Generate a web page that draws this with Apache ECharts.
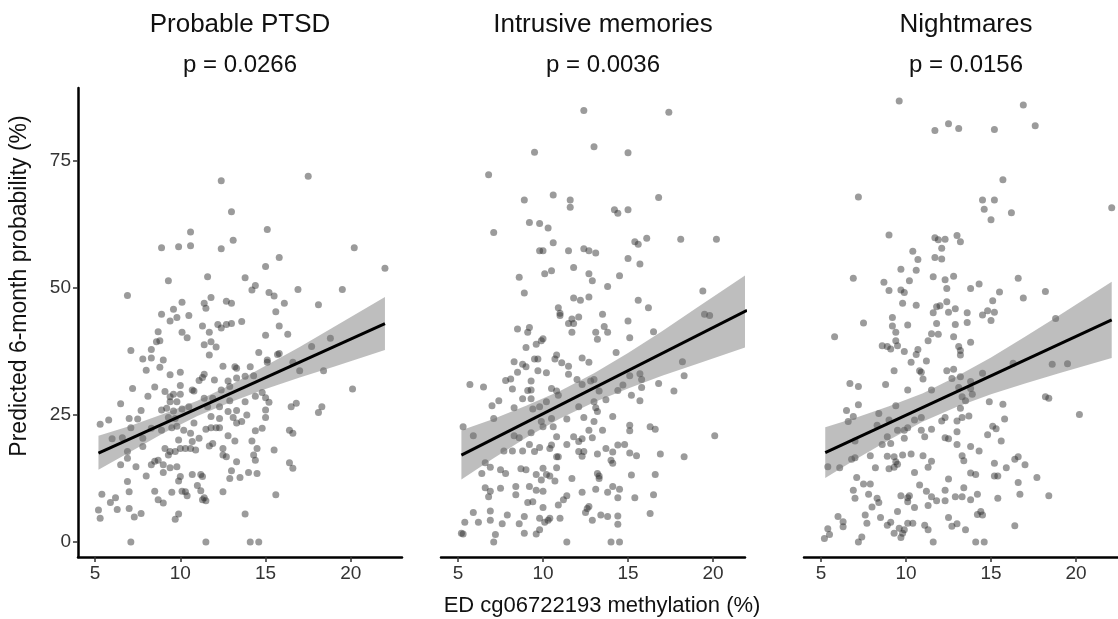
<!DOCTYPE html>
<html><head><meta charset="utf-8">
<script src="https://cdn.jsdelivr.net/npm/echarts@6/dist/echarts.min.js"></script>
<style>html,body{margin:0;padding:0;background:#fff}#c{width:1118px;height:619px}</style>
</head><body><div id="c"></div>
<script>
const panelTitles = ['Probable PTSD', 'Intrusive memories', 'Nightmares'];
const pValues = ['p = 0.0266', 'p = 0.0036', 'p = 0.0156'];
const xTicks = [5, 10, 15, 20];
const yTicks = [0, 25, 50, 75];
const xAxisTitle = 'ED cg06722193 methylation (%)';
const yAxisTitle = 'Predicted 6-month probability (%)';

const ptsdPoints = [
[12.4,71.1],[17.5,72.0],[13.0,65.0],[10.6,61.0],[15.1,61.5],[13.1,59.4],[8.9,57.9],[9.9,58.1],[10.6,58.3],[12.4,57.7],[20.2,57.9],[15.8,56.0],
[15.0,54.2],[22.0,53.9],[9.3,51.4],[11.6,52.2],[13.8,52.0],[14.4,50.5],[14.2,49.6],[16.9,49.7],[19.5,49.7],[6.9,48.5],[15.2,49.1],[15.5,48.4],[11.8,48.1],[12.7,47.4],[13.0,47.0],[11.4,47.0],[10.1,47.2],[16.1,47.0],[18.1,46.7],[11.5,46.0],[9.6,45.8],[8.9,44.8],[9.8,44.2],[10.5,44.6],[15.6,45.3],[9.4,43.5],[13.6,43.4],[11.3,42.5],[12.2,42.8],[12.7,42.8],[13.0,43.0],[12.4,42.1],[11.7,41.3],[10.1,41.3],[8.7,41.4],[15.8,42.5],[15.0,40.7],[16.3,40.9],[10.4,40.2],[8.6,39.4],[8.8,39.6],[11.4,38.8],[11.8,39.4],[12.1,38.4],[7.1,37.7],[8.3,37.9],[18.8,40.1],[17.7,38.5],[11.7,36.8],[14.6,37.3],[15.7,36.9],[15.8,37.1],[7.8,36.0],[8.3,36.2],[9.0,35.8],[15.1,35.8],[15.1,35.4],[16.6,35.4],[8.0,33.8],[8.8,34.4],[12.5,34.6],[13.2,34.5],[13.3,34.2],[14.1,34.5],[10.0,33.4],[9.4,32.9],[17.0,33.7],[18.4,33.7],[11.4,33.0],[11.3,32.4],[11.1,31.8],[12.0,31.9],[12.8,31.7],[13.3,32.3],[13.8,32.6],[14.3,32.7],[10.0,30.8],[7.2,30.2],[8.5,30.5],[9.1,29.6],[9.6,29.1],[10.0,29.1],[10.7,29.9],[10.8,29.7],[12.4,29.9],[12.9,30.6],[20.1,30.1],[8.1,28.7],[9.4,28.6],[9.8,27.6],[9.4,27.6],[11.4,28.3],[11.9,28.3],[12.9,27.8],[13.8,27.6],[14.4,28.7],[14.8,29.4],[15.0,28.4],[15.2,27.5],[6.5,27.2],[7.7,25.9],[8.9,26.0],[9.2,26.3],[9.6,25.8],[10.1,26.2],[10.5,26.6],[11.6,26.6],[12.3,26.6],[12.8,25.7],[13.3,25.9],[16.5,26.6],[16.8,27.3],[18.3,26.6],[18.1,25.5],[15.0,26.0],[5.8,24.0],[7.0,24.3],[7.5,24.2],[9.3,24.5],[9.7,24.3],[11.8,24.7],[12.3,24.3],[13.1,24.5],[13.9,25.0],[15.0,24.5],
[5.3,23.2],[7.1,22.5],[13.3,23.4],[13.6,23.7],[11.8,22.5],[12.1,22.5],[12.3,22.5],[11.5,22.2],[12.8,20.9],[13.2,19.9],[14.4,21.9],[14.8,22.4],[14.2,19.9],[16.4,22.0],[16.6,21.4],[6.0,20.3],[6.6,20.5],[7.8,18.8],[6.9,17.8],[6.9,16.5],[6.5,15.2],[7.4,14.8],[8.0,13.0],[7.8,20.4],[8.3,22.4],[8.9,22.0],[9.5,22.5],[9.8,22.8],[10.2,22.0],[10.6,21.4],[10.8,23.4],[9.9,20.1],[9.1,18.4],[9.4,17.8],[9.3,17.1],[9.7,17.8],[10.0,18.4],[10.3,18.4],[10.6,18.4],[10.9,18.1],[10.7,19.8],[11.1,20.4],[11.7,18.9],[11.9,19.4],[12.5,18.4],[12.5,17.1],[12.7,16.8],[14.5,18.4],[14.3,17.1],[14.4,16.1],[15.5,18.1],[8.5,15.9],[8.7,16.1],[8.3,15.2],[9.0,15.2],[9.4,14.6],[9.8,14.8],[9.0,13.7],[10.0,12.9],[9.9,12.0],[10.7,13.3],[11.2,13.3],[11.3,12.9],[13.0,14.0],[13.3,15.8],[12.9,12.5],[13.5,12.7],[14.0,13.7],[14.5,13.5],[16.4,15.6],[16.6,14.5],[6.9,11.9],[7.0,9.9],[5.4,9.4],[6.2,8.7],[5.9,7.8],[6.3,6.4],[7.0,6.6],[5.2,6.3],[5.3,4.7],[7.3,4.9],[7.7,5.6],[8.5,10.0],[8.7,8.3],[9.0,7.7],[9.5,9.8],[10.1,10.0],[10.3,9.9],[10.4,9.1],[11.0,11.1],[11.2,10.1],[11.4,8.7],[11.5,8.1],[11.3,8.3],[12.5,9.9],[9.9,5.5],[9.7,4.5],[13.8,5.5],[15.6,9.3],[7.1,0],[11.5,0],[14.1,0],[14.6,0]
];

const intrusivePoints = [
[12.4,84.9],[17.4,84.6],[13.0,77.8],[9.5,76.7],[15.0,76.6],[6.8,72.3],[10.6,68.3],[8.9,67.3],[11.6,67.3],[11.6,65.9],[14.2,65.4],[14.4,64.7],[15.0,65.4],[16.8,67.8],[22.0,66.3],[7.1,60.9],[9.2,62.9],[9.8,62.7],[10.3,61.8],[10.6,58.9],[9.8,57.3],[10.0,57.3],[11.5,57.3],[12.4,57.7],[12.7,57.3],[13.1,56.9],[15.4,59.1],[15.6,58.6],[16.1,59.8],[18.1,59.6],[20.2,59.6],[15.0,55.8],
[15.7,54.7],[8.6,52.1],[10.1,52.8],[10.5,53.4],[11.8,54.0],[12.7,52.8],[12.9,51.4],[14.5,52.4],[13.8,50.3],[8.9,49.0],[19.4,49.4],[11.8,48.0],[12.2,47.6],[12.7,48.2],[15.6,47.6],[16.2,46.1],[10.9,46.1],[11.0,45.0],[11.0,44.6],[12.1,44.3],[11.7,43.9],[11.8,43.0],[11.5,43.0],[13.5,44.8],[19.5,44.8],[19.8,44.6],[15.0,43.5],[13.6,42.4],[13.8,41.3],[13.1,41.3],[13.2,39.9],[15.1,40.2],[16.5,41.4],[8.5,41.9],[9.1,41.3],[9.2,42.2],[11.7,41.3],[10.0,40.0],[9.6,38.9],[9.0,38.3],[9.9,39.6],[14.3,37.3],[8.3,35.5],[8.8,35.0],[9.0,34.5],[9.5,36.0],[9.7,36.0],[10.8,36.8],[10.7,36.0],[11.1,35.3],[11.5,34.6],[12.3,36.2],[12.7,35.4],[8.5,33.4],[9.7,33.7],[10.2,33.3],[11.5,33.0],[18.2,35.5],[18.3,32.7],[15.7,33.1],[15.8,32.0],[5.7,31.0],[6.5,30.5],[7.8,31.8],[8.1,32.1],[8.2,30.1],[9.3,31.7],[9.1,29.8],[9.3,29.9],[10.5,30.2],[10.8,29.7],[12.0,32.0],[12.3,31.0],[12.8,31.7],[13.0,32.0],[13.3,29.7],[14.4,29.8],[14.7,30.9],[15.1,32.7],[15.8,30.4],[16.8,31.2],[17.7,29.7],[15.2,28.9],[15.7,27.8],[7.0,26.8],[7.4,27.8],[8.3,26.4],[8.8,28.2],[9.3,28.2],[9.4,26.2],[9.8,26.6],[10.2,27.6],[10.9,28.9],[12.1,26.6],[13.0,27.6],[13.1,26.4],[13.2,25.7],[13.7,28.0],[14.1,24.7],[7.1,24.3],[10.5,24.3],[11.4,24.2],[12.4,24.5],
[5.3,22.7],[5.9,20.9],[9.3,21.5],[8.3,20.9],[8.6,20.5],[9.9,23.7],[10.0,22.7],[10.6,22.7],[13.0,23.7],[12.7,22.0],[13.5,22.0],[15.1,23.0],[15.1,21.9],[16.3,22.7],[16.6,22.2],[20.1,20.9],[10.8,20.7],[11.8,20.7],[12.1,19.8],[12.3,20.3],[12.9,20.5],[7.7,17.9],[8.2,17.9],[8.8,17.9],[9.2,19.2],[9.5,17.8],[9.8,18.6],[10.5,19.1],[10.4,18.4],[10.8,16.8],[10.9,16.8],[11.4,19.2],[12.1,17.8],[12.3,16.9],[12.4,17.8],[13.2,17.3],[13.7,18.4],[14.1,17.7],[14.4,19.1],[14.8,19.2],[15.1,17.5],[15.5,17.0],[16.9,17.3],[18.3,16.8],[6.6,15.6],[6.9,14.7],[6.4,13.5],[7.5,14.2],[7.8,13.5],[8.7,14.4],[9.0,14.2],[9.6,13.3],[10.0,14.5],[10.2,13.3],[10.4,13.0],[9.9,12.2],[10.7,12.0],[10.8,14.6],[11.7,12.5],[13.2,13.5],[13.3,12.5],[13.3,13.0],[14.0,16.1],[14.1,15.5],[15.2,13.2],[16.6,13.3],[6.6,10.7],[6.9,10.0],[6.8,8.9],[7.5,10.6],[8.4,10.9],[9.2,10.9],[9.6,10.2],[10.0,10.0],[9.1,7.8],[9.4,7.9],[10.0,6.8],[8.4,9.3],[11.2,8.3],[11.4,9.1],[10.9,7.3],[12.3,9.8],[13.1,10.4],[13.8,9.8],[14.1,10.9],[14.5,10.4],[14.4,8.7],[15.4,8.7],[16.5,9.3],[12.6,6.6],[12.7,7.0],[12.5,5.8],[16.3,5.6],[5.9,5.8],[5.4,3.9],[6.2,3.9],[6.9,6.1],[6.9,4.3],[7.9,5.3],[7.6,3.6],[8.6,3.6],[8.9,5.0],[9.8,4.7],[10.1,3.9],[10.3,4.3],[10.4,4.7],[11.0,4.7],[9.8,2.4],[9.6,1.6],[8.9,1.7],[7.2,1.5],[7.1,0],[5.2,1.7],[5.3,1.6],[12.9,4.3],[13.4,5.3],[13.8,5.0],[14.4,5.1],[14.4,3.5],[11.4,0],[14.0,0],[14.5,0]
];

const nightmaresPoints = [
[9.6,86.8],[16.9,86.0],[17.6,81.9],[12.5,82.3],[13.1,81.4],[11.7,81.0],[15.2,81.2],[15.7,71.3],[7.2,67.9],[14.5,67.3],[15.2,67.3],[14.6,65.5],[16.2,64.8],[15.0,63.4],[22.1,65.8],[9.0,60.4],[11.7,59.9],[11.9,59.5],[12.3,59.6],[13.0,60.3],[13.2,59.1],[12.1,57.8],[10.4,57.2],[10.7,55.6],[11.7,56.0],[12.1,55.7],
[9.7,53.7],[10.6,53.5],[6.9,51.9],[8.7,51.1],[10.2,51.4],[11.6,52.2],[12.3,51.6],[12.8,52.3],[16.6,51.9],[9.0,49.5],[9.7,49.6],[9.9,49.1],[12.4,49.9],[13.8,49.9],[14.3,50.8],[15.5,49.2],[18.2,49.3],[16.9,48.0],[9.8,47.0],[10.6,46.6],[12.4,47.3],[15.1,47.5],[11.8,46.3],[12.0,46.5],[12.9,45.9],[11.6,45.1],[12.5,45.2],[13.6,45.1],[14.5,44.7],[14.8,45.5],[15.2,45.2],[15.0,43.6],[18.8,44.0],[7.5,43.1],[9.2,44.2],[9.2,42.5],[9.4,41.3],[10.1,42.7],[11.8,43.0],[12.9,42.8],[13.6,43.2],[5.8,40.4],[11.5,41.0],[11.9,40.9],[12.8,40.4],[13.8,39.3],[11.3,39.6],[9.4,39.6],[8.6,38.6],[8.9,38.5],[9.1,38.0],[9.5,38.6],[9.9,37.5],[10.7,37.9],[10.6,36.9],[13.1,38.5],[13.2,37.7],[13.2,36.8],[10.3,35.4],[11.2,35.6],[9.3,33.7],[10.8,33.7],[10.9,33.4],[12.4,33.7],[12.8,34.0],[14.5,33.2],[16.3,35.2],[18.6,35.0],[19.5,35.1],[11.0,32.1],[12.7,32.2],[13.2,32.5],[13.8,31.6],[6.7,31.2],[7.2,30.6],[8.8,31.0],[10.1,29.9],[11.5,29.9],[13.1,30.4],[13.8,30.2],[13.9,29.1],[13.3,28.6],[13.5,27.8],[14.9,27.6],[15.7,27.1],[18.2,28.6],[18.4,28.3],[7.2,27.0],[9.4,26.8],[6.5,25.9],[8.4,25.3],[6.9,24.7],[10.9,24.5],[12.3,24.5],[13.2,26.3],[13.3,24.5],[13.7,24.8],[15.8,24.2],[20.2,25.1],
[6.6,23.7],[8.3,23.0],[9.0,24.0],[9.5,22.0],[9.9,22.0],[10.1,22.5],[10.5,24.0],[10.9,22.0],[11.1,20.7],[11.5,22.2],[12.1,23.8],[13.0,23.8],[13.0,21.7],[12.3,20.5],[12.5,20.3],[13.0,19.2],[13.8,18.8],[14.3,17.9],[14.8,21.1],[15.1,22.8],[15.3,22.3],[15.6,19.9],[8.6,19.2],[8.9,20.7],[9.1,19.4],[9.9,20.4],[7.0,19.9],[6.8,16.3],[7.0,16.6],[7.9,17.0],[8.9,16.9],[9.3,16.8],[9.8,17.1],[10.3,17.3],[9.4,15.8],[9.5,15.3],[9.3,14.7],[9.0,14.4],[8.2,14.6],[11.0,17.0],[11.5,15.9],[11.3,14.7],[10.5,13.7],[13.3,17.0],[13.4,16.0],[13.8,13.6],[14.1,13.3],[15.2,15.5],[15.9,14.6],[16.4,16.3],[16.6,16.8],[17.0,15.2],[15.2,13.0],[15.4,13.0],[17.7,12.7],[5.4,14.8],[6.1,14.6],[7.1,12.7],[7.5,11.4],[7.9,11.4],[6.9,10.2],[7.0,8.6],[7.8,9.4],[8.3,8.6],[8.4,7.8],[8.0,6.9],[7.6,5.3],[7.7,3.7],[8.5,4.8],[8.9,3.3],[9.3,1.7],[9.1,3.9],[9.5,6.0],[9.6,2.7],[9.7,9.1],[10.1,8.7],[10.2,9.1],[10.1,7.9],[10.5,6.8],[10.1,3.7],[10.4,3.7],[9.8,1.7],[9.7,0.9],[9.9,2.4],[10.8,11.2],[11.2,10.0],[11.5,8.9],[11.3,7.2],[11.1,3.3],[11.3,2.4],[11.6,0],[11.8,8.1],[12.3,10.2],[12.3,8.1],[12.5,12.4],[12.9,8.9],[13.3,8.9],[13.4,10.7],[13.8,8.3],[14.2,9.4],[15.4,8.6],[16.6,11.7],[16.7,9.4],[18.4,9.1],[12.5,4.8],[12.7,3.1],[13.0,3.6],[13.5,2.4],[14.2,5.4],[14.4,6.0],[14.5,5.3],[16.4,3.2],[6.0,5.0],[6.3,4.0],[6.3,3.0],[5.4,2.6],[5.2,0.7],[5.5,1.5],[7.2,0],[7.4,1.0],[14.1,0],[14.6,0]
];

const ptsdFit = [[5.2, 17.5], [22.0, 43.0]];
const intrusiveFit = [[5.2, 17.1], [22.0, 45.6]];
const nightmaresFit = [[5.25, 17.6], [22.1, 43.7]];

const ptsdBandX = [5.2, 7, 9, 11, 13, 15, 17, 19, 22];
const ptsdBandLow = [14.2, 17.6, 21.4, 24.8, 27.6, 30.1, 32.4, 34.5, 37.8];
const ptsdBandHigh = [20.9, 22.8, 25.2, 27.8, 31.0, 34.7, 38.4, 42.3, 48.2];
const intrusiveBandX = [5.2, 7, 9, 11, 13, 15, 17, 19, 22];
const intrusiveBandLow = [12.3, 16.3, 20.5, 24.3, 27.5, 30.2, 32.7, 35.0, 38.4];
const intrusiveBandHigh = [22.0, 24.1, 26.8, 29.7, 33.2, 37.2, 41.5, 46.0, 52.7];
const nightmaresBandX = [5.25, 7, 9, 11, 13, 15, 17, 19, 22.1];
const nightmaresBandLow = [12.6, 16.2, 20.1, 23.7, 26.6, 29.1, 31.2, 33.2, 36.2];
const nightmaresBandHigh = [22.6, 24.4, 26.7, 29.3, 32.6, 36.3, 40.4, 44.6, 51.2];

// ---------- layout ----------
const FONT = '"Liberation Sans", Arial, sans-serif';
const gridTop = 88, gridH = 469;
const grids = [
  {left: 78, top: gridTop, width: 324, height: gridH},
  {left: 441, top: gridTop, width: 304, height: gridH},
  {left: 804, top: gridTop, width: 314, height: gridH}
];
const panelW = 324;
const xMin = 4, xMaxes = [23, 21.88, 22.47];
const yMin = -2.95, yMax = 89.35;

const panels = [
  {pts: ptsdPoints, fit: ptsdFit, bx: ptsdBandX, lo: ptsdBandLow, hi: ptsdBandHigh},
  {pts: intrusivePoints, fit: intrusiveFit, bx: intrusiveBandX, lo: intrusiveBandLow, hi: intrusiveBandHigh},
  {pts: nightmaresPoints, fit: nightmaresFit, bx: nightmaresBandX, lo: nightmaresBandLow, hi: nightmaresBandHigh}
];

const xAxes = grids.map((g, i) => ({
  type: 'value', gridIndex: i, min: xMin, max: xMaxes[i],
  axisLine: {show: true, onZero: false, lineStyle: {color: '#000', width: 2.5}},
  axisTick: {show: true, customValues: xTicks, length: 5, lineStyle: {color: '#333', width: 1.5}},
  axisLabel: {customValues: xTicks, fontSize: 19, color: '#333', fontFamily: FONT, margin: 7},
  splitLine: {show: false}
}));
const yAxes = grids.map((g, i) => ({
  type: 'value', gridIndex: i, min: yMin, max: yMax, show: i === 0,
  axisLine: {show: true, onZero: false, lineStyle: {color: '#000', width: 2.5}},
  axisTick: {show: true, customValues: yTicks, length: 5, lineStyle: {color: '#333', width: 1.5}},
  axisLabel: {customValues: yTicks, fontSize: 19, color: '#333', fontFamily: FONT, margin: 7},
  splitLine: {show: false}
}));

const series = [];
panels.forEach((p, i) => {
  series.push({
    type: 'scatter', xAxisIndex: i, yAxisIndex: i, data: p.pts, symbolSize: 7, z: 2,
    itemStyle: {color: 'rgba(45,45,45,0.6)'}, silent: true, clip: true
  });
  series.push({
    type: 'custom', xAxisIndex: i, yAxisIndex: i, z: 3, silent: true,
    data: p.bx.map((x, k) => [x, p.lo[k], p.hi[k]]),
    encode: {x: 0, y: [1, 2]},
    renderItem: function (params, api) {
      if (params.dataIndex !== 0) return null;
      const pts = [];
      for (let k = 0; k < p.bx.length; k++) pts.push(api.coord([p.bx[k], p.hi[k]]));
      for (let k = p.bx.length - 1; k >= 0; k--) pts.push(api.coord([p.bx[k], p.lo[k]]));
      const cs = params.coordSys;
      return {
        type: 'polygon', shape: {points: pts},
        style: {fill: 'rgba(110,110,110,0.45)'},
        clipPath: {type: 'rect', shape: {x: cs.x, y: cs.y, width: cs.width, height: cs.height}}
      };
    }
  });
  series.push({
    type: 'line', xAxisIndex: i, yAxisIndex: i, data: p.fit, z: 4, silent: true,
    symbol: 'none', lineStyle: {color: '#000', width: 3}, clip: true
  });
});

const graphics = [];
grids.forEach((g, i) => {
  const cx = g.left + panelW / 2;
  graphics.push({type: 'text', x: cx, y: 25, silent: true,
    style: {text: panelTitles[i], fill: '#111', font: '26px ' + FONT, textAlign: 'center', textVerticalAlign: 'middle'}});
  graphics.push({type: 'text', x: cx, y: 65, silent: true,
    style: {text: pValues[i], fill: '#111', font: '24px ' + FONT, textAlign: 'center', textVerticalAlign: 'middle'}});
});
graphics.push({type: 'text', x: 602, y: 606, silent: true,
  style: {text: xAxisTitle, fill: '#111', font: '22px ' + FONT, textAlign: 'center', textVerticalAlign: 'middle'}});
graphics.push({type: 'text', x: 20, y: 286, rotation: Math.PI / 2, silent: true,
  style: {text: yAxisTitle, fill: '#111', font: '23px ' + FONT, textAlign: 'center', textVerticalAlign: 'middle'}});

const chart = echarts.init(document.getElementById('c'), null, {renderer: 'canvas'});
chart.setOption({
  animation: false,
  backgroundColor: '#fff',
  grid: grids,
  xAxis: xAxes,
  yAxis: yAxes,
  series: series,
  graphic: graphics
});
</script>
</body></html>
